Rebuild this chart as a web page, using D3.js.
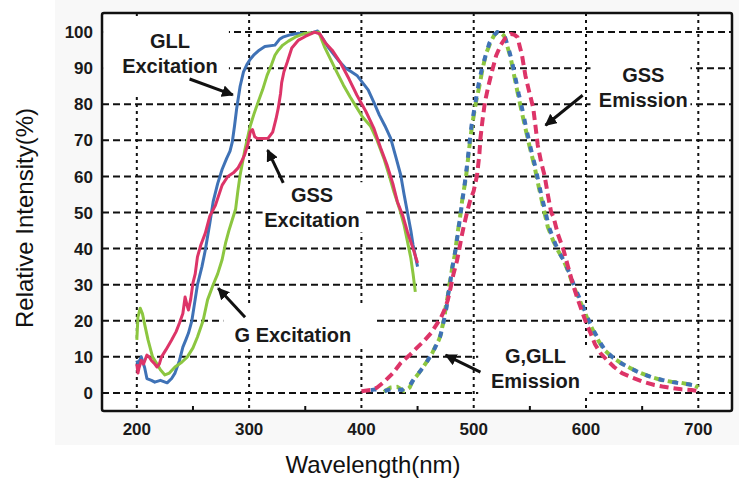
<!DOCTYPE html>
<html><head><meta charset="utf-8">
<script src="https://cdn.jsdelivr.net/npm/d3@7"></script>
<style>body{margin:0;background:#fff}svg{display:block}text{font-family:"Liberation Sans",Arial,sans-serif}</style>
</head><body><svg id="c" width="739" height="481"></svg>
<script>
// ---- data (wavelength nm, relative intensity %) ----
const xTicks = [200, 300, 400, 500, 600, 700];
const xMinorTicks = [250, 350, 450, 550, 650];
const yTicks = [0, 10, 20, 30, 40, 50, 60, 70, 80, 90, 100];

const gllExcitation = [[200,9],[201,8],[204,10],[207,7],[209,4],[213,3.5],[216,3],[221,3.5],[227,2.8],[231,4],[234,5.5],[238,9],[241,12.7],[244,15],[246,16.6],[249,20],[251,24],[254,30],[258,35],[261,39.6],[265,47],[268,53],[272,58],[276,62],[280,65],[283,67],[285,69.5],[287,74],[289,79],[292,85],[295,89],[298,91],[301,92.5],[304,93.6],[309,95],[314,96],[323,96.4],[327,98],[330,98.6],[337,99.3],[344,99.7],[350,99.5],[356,99.8],[361,100.3],[366,98],[370,96],[375,94],[380,92],[386,90],[391,89],[396,88],[401,86],[406,84],[411,80.6],[416,77],[421,74],[426,70.6],[431,65],[435,60.4],[438,55],[441,50],[444,45],[446,41],[448,38],[450,35]];
const gssExcitation = [[200,8],[201,5.5],[202,7],[204,9],[206,8],[209,10.5],[211,10],[213,9],[216,8],[218,7.2],[220,8],[222,10],[226,12],[231,14.7],[235,17],[238,19.4],[241,22],[243,26.6],[245,24],[246,23],[248,26],[250,30.5],[252,33],[254,37.7],[257,41],[261,44.3],[265,49],[270,52],[276,57.6],[281,60],[286,61],[290,62.3],[293,64],[296,66],[299,69],[301,72.3],[303,73],[305,71],[307,70.6],[312,70.5],[317,70.6],[321,72.3],[324,76],[326,79],[328,83],[329,86],[331,89],[334,91.7],[338,95.6],[344,97.8],[350,98.8],[355,99.5],[358,100],[363,99.5],[368,97],[374,95],[381,91.7],[389,87],[396,82.5],[404,78],[411,73.4],[417,68],[423,63],[428,58],[432,53],[437,49],[441,44.6],[446,40],[450,36]];
const gExcitation = [[200,14.7],[201,21],[203,23.5],[205,22],[207,19],[210,14.7],[214,10],[218,8],[221,6.4],[225,5],[229,5.5],[234,7.2],[240,8.5],[245,10],[250,12.5],[254,15.5],[259,20],[263,25.8],[268,30],[272,33],[276,37],[279,41.5],[282,45],[285,48],[288,51],[290,56],[292,60.4],[296,67],[301,74],[304,77],[308,80.6],[312,84],[316,88],[320,91],[323,93.6],[326,95],[330,96.4],[335,97.5],[341,98.6],[350,99.7],[357,99.8],[362,100],[367,96],[372,92.8],[378,89],[384,85.3],[390,82],[396,79],[401,76.5],[408,74],[414,70],[420,65],[425,60],[429,55.7],[434,51],[438,46.5],[441,42],[444,37.4],[446,33],[448,28]];

const gssEmission = [[400,0.5],[408,0.8],[414,1.5],[420,3],[428,5.5],[435,8.3],[443,10.5],[450,12.7],[456,14.5],[462,16.6],[467,19],[471,21],[474,23],[477,25.8],[480,30],[482,33],[485,36.5],[487,39.6],[489,43],[491,46],[494,50],[497,53.5],[500,56],[503,60.4],[505,66],[506,70.6],[508,76],[510,80.6],[513,85],[517,90],[520,93.5],[524,96.4],[528,98.3],[533,99.5],[536,99.3],[539,98.6],[541,96],[543,93.6],[546,88],[549,84],[553,79],[555,74],[557,68.7],[560,64],[563,60.4],[566,55],[569,50],[571,48.8],[575,44],[580,39.6],[584,35],[588,30.5],[592,26.5],[596,23],[600,19.5],[604,16.6],[608,13.5],[613,11],[619,9],[625,7.2],[632,5.5],[640,4.4],[650,3.2],[661,2.2],[668,1.8],[676,1.4],[685,1],[694,0.8],[700,0.5]];
const gEmission = [[420,0.3],[426,1.5],[432,1.7],[438,0.5],[443,1.5],[446,3.6],[450,5],[455,7.2],[459,9],[463,11],[466,13],[469,14.7],[471,16.5],[472,18.3],[474,21],[475,23.8],[477,27],[478,29.4],[480,33],[481,35],[483,38],[484,40.4],[486,45],[488,49],[490,54],[493,59.5],[495,65],[497,70.6],[499,75],[502,80.6],[505,85],[508,90],[511,94],[515,97.2],[518,99],[521,100],[524,99.8],[527,99],[530,96],[533,92.8],[536,88],[539,83.4],[542,79],[546,73.4],[550,68],[554,63],[558,57],[563,50],[566,46],[571,42],[575,39.5],[580,36.8],[585,33],[589,29.4],[594,26],[598,23],[602,20],[606,17.5],[611,14.5],[616,12],[623,10],[631,8.3],[640,6.8],[649,5.5],[658,4.4],[667,3.6],[676,3.1],[685,2.8],[690,2.5],[696,2.2],[700,1.5]];
const gllEmission = [[404,0.5],[412,1],[420,0.5],[428,1.2],[436,0.8],[443,2],[447,4],[451,5.5],[456,7.5],[460,9.5],[464,11.5],[467,13.5],[470,15.5],[472,18],[474,21],[476,24],[477,27],[479,30],[480,33],[482,36.5],[484,40],[486,44.5],[488,49],[490,53.5],[492,58],[494,63],[496,68.5],[498,74],[501,79.5],[504,85],[507,89.5],[511,94],[514,97],[518,99.2],[521,100],[525,99.5],[528,98.5],[531,95.5],[534,92],[537,87.5],[540,83],[543,79],[547,73],[551,67.5],[555,62.5],[559,56.5],[564,50],[567,46],[572,41.8],[576,39],[581,36.3],[586,32.7],[590,29.2],[595,25.8],[599,22.7],[603,19.7],[607,17.2],[612,14.3],[617,11.8],[624,9.8],[632,8.1],[641,6.6],[650,5.3],[659,4.3],[668,3.6],[677,3],[686,2.6],[691,2.4],[697,2.1],[700,1.6]];

// annotation labels
const annotationLines = [["GLL","Excitation"], ["GSS","Excitation"], ["G Excitation"], ["GSS","Emission"], ["G,GLL","Emission"]];

const colors = {blue:"#3f72b6", green:"#8cc640", red:"#dd3468"};

// ---- layout ----
const W = 739, H = 481;
const m = {left:102, top:13, right:732, bottom:411};
const svg = d3.select("#c");
const x = d3.scaleLinear().domain([169, 730]).range([m.left, m.right]);
const y = d3.scaleLinear().domain([-5, 105.3]).range([m.bottom, m.top]);

// annotation placement (data coords): text anchor, arrow from->to, white box [x0,x1,yTop,yBottom]
const annotPos = [
  {at:[229.5,95.5], from:[247,87], to:[285.5,82.6], box:[170,282,103.5,83]},
  {at:[356,52.9], from:[330.4,58.2], to:[316.5,67.3], box:[312,404,58.4,44.5]},
  {at:[339,14.2], from:[296.4,21], to:[272.5,29], box:[277,411,24.4,13.3]},
  {at:[651,86.1], from:[597,82.5], to:[564,74.2], box:[604,693,93.6,77]},
  {at:[555,8.3], from:[506,5.8], to:[475,10.5], box:[504,603,13.3,-1]}
];
const annotations = annotationLines.map((l,i)=>Object.assign({lines:l}, annotPos[i]));

// light grey paper around the plot
svg.append("rect").attr("x",55).attr("y",0).attr("width",W-55).attr("height",445).attr("fill","#f8f8f8");
svg.append("rect").attr("x",m.left).attr("y",m.top).attr("width",m.right-m.left).attr("height",m.bottom-m.top).attr("fill","#fff");

// grid
const grid = svg.append("g");
grid.selectAll("line.h").data(yTicks).join("line").attr("class","h")
  .attr("x1",m.left).attr("x2",m.right).attr("y1",d=>y(d)).attr("y2",d=>y(d))
  .attr("stroke","#111").attr("stroke-width",2).attr("stroke-dasharray","7,4");
grid.selectAll("line.v").data(xTicks).join("line").attr("class","v")
  .attr("y1",m.top).attr("y2",m.bottom).attr("x1",d=>x(d)).attr("x2",d=>x(d))
  .attr("stroke","#111").attr("stroke-width",2).attr("stroke-dasharray","3,4");
grid.selectAll("line.mn").data(xMinorTicks).join("line").attr("class","mn")
  .attr("y1",m.bottom).attr("y2",m.bottom-5).attr("x1",d=>x(d)).attr("x2",d=>x(d))
  .attr("stroke","#111").attr("stroke-width",2);

// white boxes behind annotation text
svg.append("g").selectAll("rect").data(annotations).join("rect")
  .attr("x",d=>x(d.box[0])).attr("width",d=>x(d.box[1])-x(d.box[0]))
  .attr("y",d=>y(d.box[2])).attr("height",d=>y(d.box[3])-y(d.box[2]))
  .attr("fill","#fff");

// curves
const line = d3.line().x(d=>x(d[0])).y(d=>y(d[1]));
const curves = [
  {data:gllExcitation, c:colors.blue, dash:null, off:0},
  {data:gExcitation, c:colors.green, dash:null, off:0},
  {data:gssExcitation, c:colors.red, dash:null, off:0},
  {data:gEmission, c:colors.green, dash:"9,5", off:0},
  {data:gllEmission, c:colors.blue, dash:"6,8", off:9},
  {data:gssEmission, c:colors.red, dash:"9,5", off:0}
];
svg.append("g").selectAll("path").data(curves).join("path")
  .attr("d",d=>line(d.data)).attr("fill","none").attr("stroke",d=>d.c)
  .attr("stroke-width",d=>d.dash?4:3).attr("stroke-dasharray",d=>d.dash)
  .attr("stroke-dashoffset",d=>d.off)
  .attr("stroke-linejoin","round");

// frame
svg.append("rect").attr("x",m.left).attr("y",m.top).attr("width",m.right-m.left).attr("height",m.bottom-m.top)
  .attr("fill","none").attr("stroke","#111").attr("stroke-width",2.5).attr("rx",2);

// tick labels
svg.append("g").selectAll("text").data(yTicks).join("text")
  .attr("x",m.left-9).attr("y",d=>y(d)).attr("dy","0.36em").attr("text-anchor","end")
  .attr("font-size",17).attr("font-weight","bold").attr("fill","#1a1a1a").text(d=>d);
svg.append("g").selectAll("text").data(xTicks).join("text")
  .attr("x",d=>x(d)).attr("y",435).attr("text-anchor","middle")
  .attr("font-size",17).attr("font-weight","bold").attr("fill","#1a1a1a").text(d=>d);

// axis titles
svg.append("text").attr("x",373).attr("y",473).attr("text-anchor","middle")
  .attr("font-size",24).attr("fill","#111").text("Wavelength(nm)");
svg.append("text").attr("transform","translate(33,218) rotate(-90)").attr("text-anchor","middle")
  .attr("font-size",24).attr("fill","#111").text("Relative Intensity(%)");

// annotations
svg.append("defs").append("marker").attr("id","ah").attr("viewBox","0 0 10 10")
  .attr("refX",9).attr("refY",5).attr("markerWidth",4).attr("markerHeight",4).attr("orient","auto")
  .append("path").attr("d","M0,0L10,5L0,10Z").attr("fill","#111");
const ag = svg.append("g");
annotations.forEach(a=>{
  const t = ag.append("text").attr("text-anchor","middle").attr("font-size",20)
    .attr("font-weight","bold").attr("fill","#1a1a1a");
  a.lines.forEach((l,i)=>{
    t.append("tspan").attr("x",x(a.at[0])).attr("y",y(a.at[1])+i*25).text(l);
  });
  ag.append("line").attr("x1",x(a.from[0])).attr("y1",y(a.from[1]))
    .attr("x2",x(a.to[0])).attr("y2",y(a.to[1]))
    .attr("stroke","#111").attr("stroke-width",3).attr("marker-end","url(#ah)");
});
</script></body></html>
